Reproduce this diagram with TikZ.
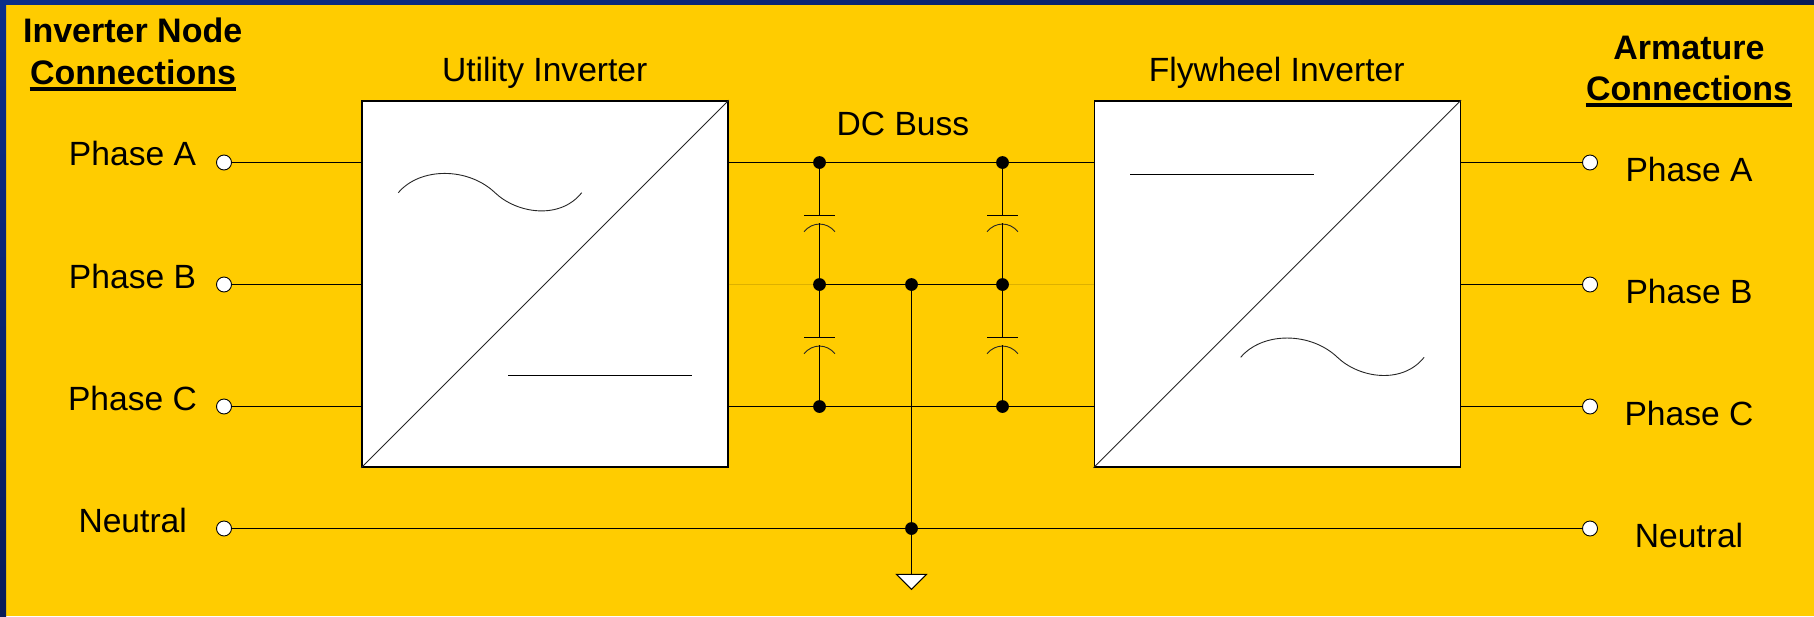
\documentclass[tikz,border=0pt]{standalone}
\usepackage{fontspec}
\setmainfont{Liberation Sans}
\definecolor{panelyellow}{HTML}{FFCC00}
\definecolor{frameblue}{HTML}{0B2E8A}
\definecolor{framenavy}{HTML}{0A1C58}
\definecolor{fadedwire}{HTML}{DDB000}
\tikzset{
  wire/.style={line width=0.55pt},
  thinwire/.style={line width=0.45pt,black!85},
  invbox/.style={draw,fill=white,line width=0.75pt,minimum size=183pt,inner sep=0pt},
  term/.style={circle,draw,fill=white,line width=0.45pt,minimum size=7.5pt,inner sep=0pt},
  junction/.style={circle,fill=black,minimum size=6.4pt,inner sep=0pt},
  lbl/.style={anchor=base,inner sep=0pt,font=\fontsize{16.8}{18}\selectfont},
  head/.style={anchor=base,inner sep=0pt,font=\fontsize{17}{18}\selectfont\bfseries},
  headrule/.style={line width=1.75pt},
  capplates/.pic={
    \draw[wire] (-15.5,0) -- (15.5,0);
    \draw[thinwire] (-15.5,16.2) .. controls (-7,6) and (7,6) .. (15.5,16.2);
  }
}
\begin{document}
\begin{tikzpicture}[x=0.5pt,y=-0.5pt]
\useasboundingbox (0,0) rectangle (1814,616);
\fill[panelyellow] (0,0) rectangle (1814,616);
\shade[left color=frameblue,right color=framenavy] (0,0) rectangle (1814,4.7);
\shade[top color=frameblue,bottom color=framenavy] (0,0) rectangle (6,616);

\node[invbox] (utility) at (545,284) {};
\node[invbox] (flywheel) at (1277.3,284) {};

\node[term] (termAL) at (224,162.5) {};
\node[term] (termBL) at (224,284.5) {};
\node[term] (termCL) at (224,406.5) {};
\node[term] (termNL) at (224,528.5) {};
\node[term] (termAR) at (1590,162.5) {};
\node[term] (termBR) at (1590,284.5) {};
\node[term] (termCR) at (1590,406.5) {};
\node[term] (termNR) at (1590,528.5) {};

\node[junction] (dotAL) at (819.5,162.5) {};
\node[junction] (dotBL) at (819.5,284.5) {};
\node[junction] (dotCL) at (819.5,406.5) {};
\node[junction] (dotAR) at (1002.5,162.5) {};
\node[junction] (dotBR) at (1002.5,284.5) {};
\node[junction] (dotCR) at (1002.5,406.5) {};
\node[junction] (dotBM) at (911.5,284.5) {};
\node[junction] (dotN) at (911.5,528.5) {};

\coordinate (capAL) at (819.5,215.5);
\coordinate (arcAL) at (819.5,223);
\coordinate (capCL) at (819.5,337.5);
\coordinate (arcCL) at (819.5,345);
\coordinate (capAR) at (1002.5,215.5);
\coordinate (arcAR) at (1002.5,223);
\coordinate (capCR) at (1002.5,337.5);
\coordinate (arcCR) at (1002.5,345);
\coordinate (gnd) at (911.5,574.3);

\draw[wire] (termAL) -- (termAL -| utility.west);
\draw[wire] (termBL) -- (termBL -| utility.west);
\draw[wire] (termCL) -- (termCL -| utility.west);
\draw[wire] (termNL) -- (dotN);
\draw[wire] (termAR) -- (termAR -| flywheel.east);
\draw[wire] (termBR) -- (termBR -| flywheel.east);
\draw[wire] (termCR) -- (termCR -| flywheel.east);
\draw[wire] (termNR) -- (dotN);

\draw[wire] (dotAL -| utility.east) -- (dotAL);
\draw[wire] (dotAL) -- (dotAR);
\draw[wire] (dotAR) -- (dotAR -| flywheel.west);
\draw[wire] (dotCL -| utility.east) -- (dotCL);
\draw[wire] (dotCL) -- (dotCR);
\draw[wire] (dotCR) -- (dotCR -| flywheel.west);
\draw[fadedwire,line width=0.4pt] (dotBL -| utility.east) -- (dotBL);
\draw[fadedwire,line width=0.4pt] (dotBR) -- (dotBR -| flywheel.west);
\draw[wire] (dotBL) -- (dotBM);
\draw[wire] (dotBM) -- (dotBR);
\draw[wire] (dotBM) -- (dotN);
\draw[wire] (dotN) -- (gnd);

\draw[wire] (dotAL) -- (capAL);
\pic at (capAL) {capplates};
\draw[wire] (arcAL) -- (dotBL);
\draw[wire] (dotBL) -- (capCL);
\pic at (capCL) {capplates};
\draw[wire] (arcCL) -- (dotCL);
\draw[wire] (dotAR) -- (capAR);
\pic at (capAR) {capplates};
\draw[wire] (arcAR) -- (dotBR);
\draw[wire] (dotBR) -- (capCR);
\pic at (capCR) {capplates};
\draw[wire] (arcCR) -- (dotCR);

\draw[line width=0.5pt,fill=white,line join=miter] (896.5,574.3) -- (926.5,574.3) -- (911.5,589.3) -- cycle;

\draw[thinwire] (utility.south west) -- (utility.north east);
\draw[thinwire] (flywheel.south west) -- (flywheel.north east);

\draw[thinwire] (398.3,192.7) .. controls (420,167) and (468,167) .. (495,192.7)
  .. controls (517,213.7) and (560,220) .. (581.7,192.7);
\draw[wire] (508,375.5) -- (692,375.5);
\draw[wire] (1130,174.5) -- (1314,174.5);
\draw[thinwire] (1240.7,357.3) .. controls (1262.4,331.6) and (1310.4,331.6) .. (1337.4,357.3)
  .. controls (1359.4,378.3) and (1402.4,384.6) .. (1424.1,357.3);

\node[head] (inverterhead) at (132.7,42.7) {Inverter Node};
\node[head] (connhead) at (133,84) {Connections};
\draw[headrule] ([yshift=-2.5pt]connhead.base west) -- ([yshift=-2.5pt]connhead.base east);
\node[head] (armaturehead) at (1689,59) {Armature};
\node[head] (armconnhead) at (1689,100) {Connections};
\draw[headrule] ([yshift=-2.5pt]armconnhead.base west) -- ([yshift=-2.5pt]armconnhead.base east);

\node[lbl] (utilitylbl) at (544.7,81.7) {Utility Inverter};
\node[lbl] (flywheellbl) at (1276.7,81.3) {Flywheel Inverter};
\node[lbl] (buslbl) at (903,135) {DC Buss};

\node[lbl] (phaseAL) at (132.5,165) {Phase A};
\node[lbl] (phaseBL) at (132.5,288.3) {Phase B};
\node[lbl] (phaseCL) at (132.5,410) {Phase C};
\node[lbl] (neutralL) at (132.7,532.5) {Neutral};
\node[lbl] (phaseAR) at (1689,181) {Phase A};
\node[lbl] (phaseBR) at (1689,303.5) {Phase B};
\node[lbl] (phaseCR) at (1689,425) {Phase C};
\node[lbl] (neutralR) at (1689,547.5) {Neutral};
\end{tikzpicture}
\end{document}
